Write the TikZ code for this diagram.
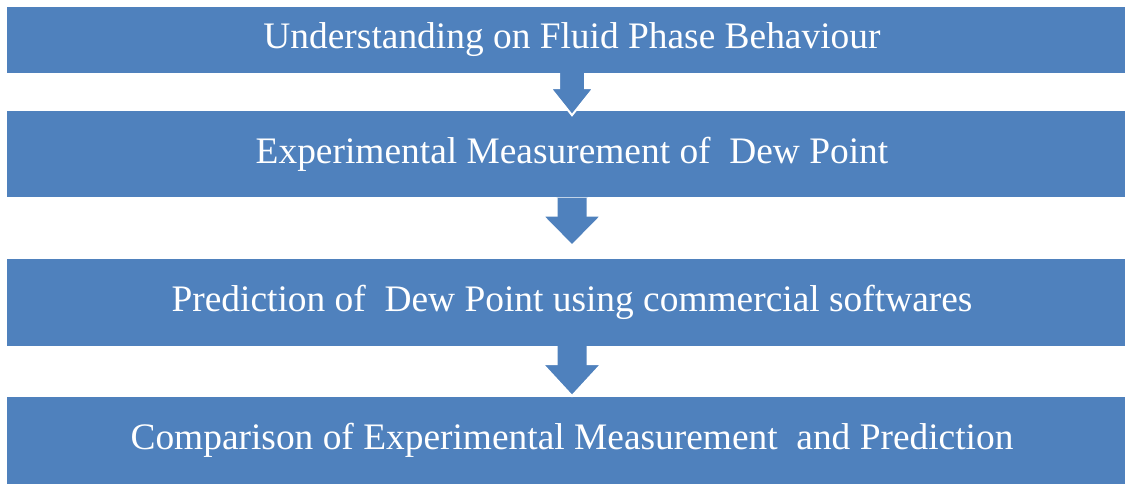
\documentclass[tikz,border=0pt]{standalone}
\usepackage{fontspec}
\setmainfont{Liberation Serif}
\usetikzlibrary{positioning,calc}
\definecolor{cblue}{HTML}{4F81BD}
\tikzset{
  stage/.style={fill=cblue, text=white, minimum width=1130pt, inner sep=0pt,
                font=\fontsize{37.4}{42}\selectfont},
  blockflow/.style n args={3}{fill=cblue, draw=white, line width=2pt,
    to path={let \p1=(\tikztostart), \p2=(\tikztotarget) in
      (\x1-#1pt,\y1) -- (\x1-#1pt,\y2+#3pt) -- (\x1-#2pt,\y2+#3pt) -- (\x2,\y2)
      -- (\x1+#2pt,\y2+#3pt) -- (\x1+#1pt,\y2+#3pt) -- (\x1+#1pt,\y1)}},
}

\begin{document}
\begin{tikzpicture}[x=1pt,y=1pt]
  \clip (0,0) rectangle (1125,483);
  \node[stage, minimum height=66pt] (s1) at (572,443) {Understanding on Fluid Phase Behaviour};
  \node[stage, minimum height=86pt, below=38pt of s1] (s2) {Experimental Measurement of\ \ Dew Point};
  \node[stage, minimum height=87pt, below=61pt of s2] (s3) {Prediction of\ \ Dew Point using commercial softwares};
  \node[stage, minimum height=87pt, below=51pt of s3] (s4) {Comparison of Experimental Measurement\ \ and Prediction};
  % arrow tips
  \coordinate (t1) at ([yshift=-4pt]s2.north);
  \coordinate (t2) at ([yshift=13pt]s3.north);
  \coordinate (t3) at ([yshift=1pt]s4.north);
  \foreach \a/\b/\s/\h/\l in {s1/t1/13/21.5/27, s2/t2/15.5/29.5/30, s3/t3/15.5/29.5/32}
     \draw[blockflow={\s}{\h}{\l}] (\a.south) to (\b);
\end{tikzpicture}
\end{document}
